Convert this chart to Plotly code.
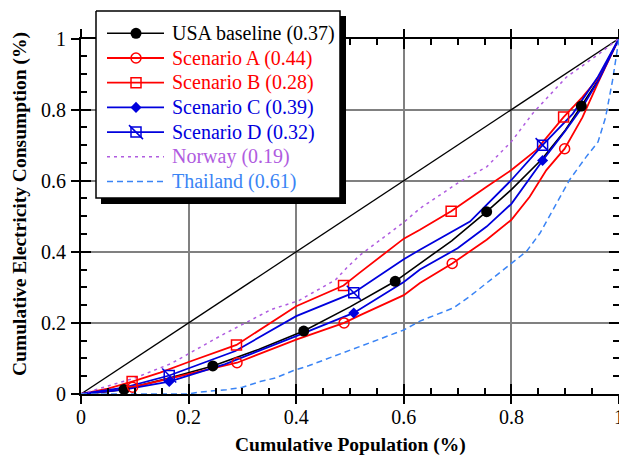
import plotly.graph_objects as go

W, H = 627, 455          # browser window
OFF = 8                  # default page body margin
FW, FH = W - OFF, H - OFF  # figure size so that it fits the window exactly
FONT = "Liberation Serif"

# ---------------- data ----------------
diag_x = [0, 1]
diag_y = [0, 1]

usa_x = [0, 0.04, 0.08, 0.164, 0.245, 0.33, 0.414, 0.5, 0.584, 0.63, 0.689, 0.754, 0.8, 0.857, 0.9, 0.930, 0.96, 1]
usa_y = [0, 0.005, 0.013, 0.045, 0.079, 0.125, 0.177, 0.245, 0.317, 0.368, 0.431, 0.513, 0.575, 0.661, 0.742, 0.810, 0.88, 1]
usa_mx = [0.080, 0.245, 0.414, 0.584, 0.754, 0.930]
usa_my = [0.013, 0.079, 0.177, 0.317, 0.513, 0.810]

a_x = [0, 0.05, 0.096, 0.147, 0.2, 0.29, 0.4, 0.489, 0.519, 0.6, 0.63, 0.69, 0.754, 0.8, 0.834, 0.865, 0.899, 0.932, 0.963, 1]
a_y = [0, 0.008, 0.019, 0.037, 0.055, 0.088, 0.153, 0.200, 0.222, 0.278, 0.312, 0.367, 0.434, 0.49, 0.555, 0.63, 0.690, 0.778, 0.882, 1]
a_mx = [0.096, 0.290, 0.489, 0.690, 0.899]
a_my = [0.019, 0.088, 0.200, 0.367, 0.690]

b_x = [0, 0.05, 0.095, 0.147, 0.2, 0.289, 0.4, 0.488, 0.517, 0.6, 0.63, 0.688, 0.754, 0.8, 0.846, 0.897, 0.932, 0.963, 1]
b_y = [0, 0.015, 0.035, 0.06, 0.09, 0.138, 0.247, 0.305, 0.34, 0.437, 0.462, 0.514, 0.583, 0.63, 0.686, 0.779, 0.835, 0.891, 1]
b_mx = [0.095, 0.289, 0.488, 0.688, 0.897]
b_my = [0.035, 0.138, 0.305, 0.514, 0.779]

c_x = [0, 0.08, 0.164, 0.268, 0.4, 0.507, 0.6, 0.63, 0.7, 0.754, 0.8, 0.858, 0.9, 0.932, 0.963, 1]
c_y = [0, 0.012, 0.035, 0.084, 0.163, 0.228, 0.315, 0.35, 0.41, 0.471, 0.535, 0.657, 0.74, 0.807, 0.885, 1]
c_mx = [0.164, 0.507, 0.858]
c_my = [0.035, 0.228, 0.657]

d_x = [0, 0.08, 0.164, 0.287, 0.4, 0.507, 0.6, 0.63, 0.723, 0.8, 0.858, 0.914, 0.96, 1]
d_y = [0, 0.018, 0.052, 0.121, 0.219, 0.285, 0.379, 0.406, 0.485, 0.602, 0.700, 0.788, 0.89, 1]
d_mx = [0.164, 0.507, 0.858]
d_my = [0.052, 0.285, 0.700]

nor_x = [0, 0.1, 0.168, 0.261, 0.354, 0.404, 0.473, 0.494, 0.518, 0.6, 0.63, 0.704, 0.754, 0.8, 0.84, 0.902, 0.963, 1]
nor_y = [0, 0.045, 0.086, 0.165, 0.238, 0.262, 0.321, 0.355, 0.39, 0.483, 0.522, 0.597, 0.639, 0.71, 0.79, 0.891, 0.957, 1]

tha_x = [0, 0.2, 0.218, 0.27, 0.3, 0.333, 0.361, 0.395, 0.424, 0.519, 0.6, 0.63, 0.692, 0.723, 0.754, 0.797, 0.828,
         0.853, 0.877, 0.908, 0.939, 0.961, 0.975, 0.988, 1]
tha_y = [0, 0, 0.005, 0.012, 0.019, 0.035, 0.045, 0.066, 0.08, 0.135, 0.18, 0.205, 0.242, 0.275, 0.312, 0.364, 0.401,
         0.452, 0.518, 0.602, 0.667, 0.709, 0.778, 0.882, 1]

names = ["USA baseline (0.37)", "Scenario A (0.44)", "Scenario B (0.28)", "Scenario C (0.39)",
         "Scenario D (0.32)", "Norway (0.19)", "Thailand (0.61)"]

x_title = "Cumulative Population (%)"
y_title = "Cumulative Electricity Consumption (%)"

# ---------------- styles ----------------
BLACK = "#000000"
RED = "#ff0000"
BLUE = "#0000dd"
PURPLE = "#b05ce0"
LBLUE = "#3a84f5"


def pxx(px):  # window pixel x -> paper
    return (px - OFF) / FW


def pxy(py):  # window pixel y -> paper
    return 1 - (py - OFF) / FH


series = [
    dict(x=usa_x, y=usa_y, mx=usa_mx, my=usa_my, color=BLACK, dash="solid", w=1.6,
         markers=[dict(symbol="circle", size=11, color=BLACK, line=dict(width=0))]),
    dict(x=a_x, y=a_y, mx=a_mx, my=a_my, color=RED, dash="solid", w=1.8,
         markers=[dict(symbol="circle-open", size=10, color=RED, line=dict(width=1.5, color=RED))]),
    dict(x=b_x, y=b_y, mx=b_mx, my=b_my, color=RED, dash="solid", w=1.8,
         markers=[dict(symbol="square-open", size=10, color=RED, line=dict(width=1.5, color=RED))]),
    dict(x=c_x, y=c_y, mx=c_mx, my=c_my, color=BLUE, dash="solid", w=1.8,
         markers=[dict(symbol="diamond", size=8.5, color=BLUE, line=dict(width=0))]),
    dict(x=d_x, y=d_y, mx=d_mx, my=d_my, color=BLUE, dash="solid", w=1.8,
         markers=[dict(symbol="square-open", size=10, color=BLUE, line=dict(width=1.5, color=BLUE)),
                  dict(symbol="line-nw", size=14, color=BLUE, line=dict(width=1.5, color=BLUE))]),
    dict(x=nor_x, y=nor_y, mx=None, my=None, color=PURPLE, dash="3px,4px", w=1.5, markers=[]),
    dict(x=tha_x, y=tha_y, mx=None, my=None, color=LBLUE, dash="6px,4px", w=1.5, markers=[]),
]

fig = go.Figure()

# equality line
fig.add_trace(go.Scatter(x=diag_x, y=diag_y, mode="lines", line=dict(color=BLACK, width=1.3),
                         showlegend=False, hoverinfo="skip"))

for s in series:
    fig.add_trace(go.Scatter(x=s["x"], y=s["y"], mode="lines",
                             line=dict(color=s["color"], width=s["w"], dash=s["dash"]),
                             showlegend=False))
for s in series:
    for m in s["markers"]:
        fig.add_trace(go.Scatter(x=s["mx"], y=s["my"], mode="markers", marker=m,
                                 showlegend=False, cliponaxis=False))

# dummy trace for the overlay axes carrying the outer halves of the major ticks
fig.add_trace(go.Scatter(x=[None], y=[None], xaxis="x3", yaxis="y3", showlegend=False))

# ---------------- custom legend (window-pixel coordinates on an inset subplot) ----------------
LX0, LX1, LY0, LY1 = 88, 352, 8, 212
fig.add_trace(go.Scatter(x=[101, 346, 346, 101, 101], y=[16, 16, 204, 204, 16], xaxis="x2", yaxis="y2",
                         mode="lines", fill="toself", fillcolor=BLACK, line=dict(width=0, color=BLACK),
                         showlegend=False, hoverinfo="skip"))
fig.add_trace(go.Scatter(x=[96, 340, 340, 96, 96], y=[11, 11, 198, 198, 11], xaxis="x2", yaxis="y2",
                         mode="lines", fill="toself", fillcolor="white", line=dict(width=1.5, color=BLACK),
                         showlegend=False, hoverinfo="skip"))

row0, rowstep = 33.3, 24.7
annotations = []
for i, (s, name) in enumerate(zip(series, names)):
    ry = row0 + rowstep * i
    fig.add_trace(go.Scatter(x=[107, 164], y=[ry, ry], xaxis="x2", yaxis="y2", mode="lines",
                             line=dict(color=s["color"], width=s["w"], dash=s["dash"]),
                             showlegend=False, hoverinfo="skip"))
    for m in s["markers"]:
        fig.add_trace(go.Scatter(x=[136], y=[ry], xaxis="x2", yaxis="y2", mode="markers", marker=m,
                                 showlegend=False, hoverinfo="skip"))
    annotations.append(dict(x=pxx(170), y=pxy(ry), xref="paper", yref="paper", text=name,
                            showarrow=False, xanchor="left", yanchor="middle",
                            font=dict(family=FONT, size=20, color=s["color"])))

annotations.append(dict(x=pxx(350), y=pxy(445), xref="paper", yref="paper", text=x_title,
                        showarrow=False, xanchor="center", yanchor="middle",
                        font=dict(family=FONT, size=19.5, color=BLACK, weight="bold")))
annotations.append(dict(x=pxx(20), y=pxy(204), xref="paper", yref="paper", text=y_title,
                        showarrow=False, xanchor="center", yanchor="middle", textangle=-90,
                        font=dict(family=FONT, size=19.5, color=BLACK, weight="bold")))

# ---------------- layout ----------------
PX0, PX1, PY0, PY1 = 81, 619, 38.5, 394
xdom = [pxx(PX0), pxx(PX1)]
ydom = [pxy(PY1), pxy(PY0)]

common_major = dict(range=[0, 1], dtick=0.2, tick0=0, zeroline=False, automargin=False)
minor = dict(dtick=0.05, tick0=0, ticks="inside", ticklen=6, tickwidth=1.5, tickcolor=BLACK, showgrid=False)

fig.update_layout(
    width=FW, height=FH,
    margin=dict(l=0, r=0, t=0, b=0),
    paper_bgcolor="white", plot_bgcolor="rgba(0,0,0,0)",
    showlegend=False,
    font=dict(family=FONT, size=20, color=BLACK),
    xaxis=dict(**common_major, domain=xdom, anchor="y",
               showgrid=True, gridcolor="#808080", gridwidth=1.6,
               showline=True, linecolor=BLACK, linewidth=2, mirror="ticks",
               ticks="inside", ticklen=10, tickwidth=1.5, tickcolor=BLACK, ticklabelstandoff=4,
               tickfont=dict(family=FONT, size=20, color=BLACK), minor=minor),
    yaxis=dict(**common_major, domain=ydom, anchor="x",
               showgrid=True, gridcolor="#808080", gridwidth=1.6,
               showline=True, linecolor=BLACK, linewidth=2, mirror="ticks",
               ticks="inside", ticklen=10, tickwidth=1.5, tickcolor=BLACK, ticklabelstandoff=9,
               tickfont=dict(family=FONT, size=20, color=BLACK), minor=minor),
    xaxis3=dict(**common_major, overlaying="x", anchor="y3", showgrid=False, showline=False,
                showticklabels=False, mirror="ticks", ticks="outside", ticklen=9, tickwidth=1.5,
                tickcolor=BLACK),
    yaxis3=dict(**common_major, overlaying="y", anchor="x3", showgrid=False, showline=False,
                showticklabels=False, mirror="ticks", ticks="outside", ticklen=9, tickwidth=1.5,
                tickcolor=BLACK),
    xaxis2=dict(domain=[pxx(LX0), pxx(LX1)], range=[LX0, LX1], visible=False, anchor="y2",
                fixedrange=True),
    yaxis2=dict(domain=[pxy(LY1), pxy(LY0)], range=[LY1, LY0], visible=False, anchor="x2",
                fixedrange=True),
    annotations=annotations,
)

fig.write_html("out.html")
